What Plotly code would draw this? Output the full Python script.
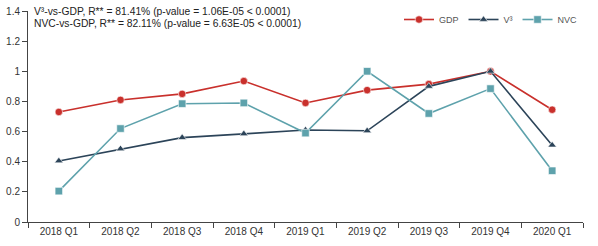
import plotly.graph_objects as go

categories = ["2018 Q1", "2018 Q2", "2018 Q3", "2018 Q4", "2019 Q1",
              "2019 Q2", "2019 Q3", "2019 Q4", "2020 Q1"]
gdp = [0.73, 0.81, 0.85, 0.935, 0.79, 0.875, 0.915, 1.0, 0.745]
v3 = [0.405, 0.485, 0.56, 0.585, 0.61, 0.605, 0.90, 1.0, 0.51]
nvc = [0.205, 0.62, 0.785, 0.79, 0.59, 1.0, 0.72, 0.885, 0.34]

annot_lines = [
    "V³-vs-GDP, R** = 81.41% (p-value = 1.06E-05 < 0.0001)",
    "NVC-vs-GDP, R** = 82.11% (p-value = 6.63E-05 < 0.0001)",
]

FONT = "Liberation Sans, Arial, Helvetica, sans-serif"
W, H = 598, 246
M_L, M_R, M_T, M_B = 28, 15, 11, 24
PLOT_H = H - M_T - M_B

fig = go.Figure()
fig.add_trace(go.Scatter(
    x=categories, y=gdp, name="GDP", mode="lines+markers",
    line=dict(color="#c9302c", width=1.6),
    marker=dict(symbol="circle", size=7.5, color="#c9302c",
                line=dict(color="white", width=0.6))))
fig.add_trace(go.Scatter(
    x=categories, y=v3, name="V³", mode="lines+markers",
    line=dict(color="#2c4459", width=1.6),
    marker=dict(symbol="triangle-up", size=7.5, color="#2c4459",
                line=dict(color="white", width=0.6))))
fig.add_trace(go.Scatter(
    x=categories, y=nvc, name="NVC", mode="lines+markers",
    line=dict(color="#5ea2ac", width=1.6),
    marker=dict(symbol="square", size=7.5, color="#5ea2ac",
                line=dict(color="white", width=0.6))))

for i, t in enumerate(annot_lines):
    fig.add_annotation(
        text=t, xref="paper", yref="paper", x=0.008,
        y=1.0 - (0.5 + i * 12) / PLOT_H,
        xanchor="left", yanchor="middle", showarrow=False,
        font=dict(family=FONT, size=10.3, color="#222"))

fig.update_layout(
    width=W, height=H,
    margin=dict(l=M_L, r=M_R, t=M_T, b=M_B, pad=0, autoexpand=False),
    paper_bgcolor="white", plot_bgcolor="white",
    font=dict(family=FONT, size=10, color="#333"),
    showlegend=True,
    legend=dict(orientation="h", x=1.0, xanchor="right",
                y=1.0 + 6 / PLOT_H, yanchor="top",
                font=dict(size=9, color="#555"),
                bgcolor="rgba(0,0,0,0)", itemwidth=30),
)
fig.update_xaxes(
    type="category", range=[-0.5, 8.5], showline=True, linecolor="#444",
    linewidth=1, ticks="outside", tickson="boundaries", ticklen=5,
    tickcolor="#444", showgrid=False, zeroline=False, automargin=False,
    tickfont=dict(size=10, color="#333"))
fig.update_yaxes(
    range=[0, 1.4], dtick=0.2, showline=True, linecolor="#444", linewidth=1,
    ticks="outside", ticklen=5, tickcolor="#444", showgrid=False,
    zeroline=False, automargin=False, tickfont=dict(size=10, color="#333"))

fig.write_html(
    "out.html",
    config={"displayModeBar": False},
    post_script="document.body.style.margin='0px';"
                "document.body.style.overflow='hidden';")
